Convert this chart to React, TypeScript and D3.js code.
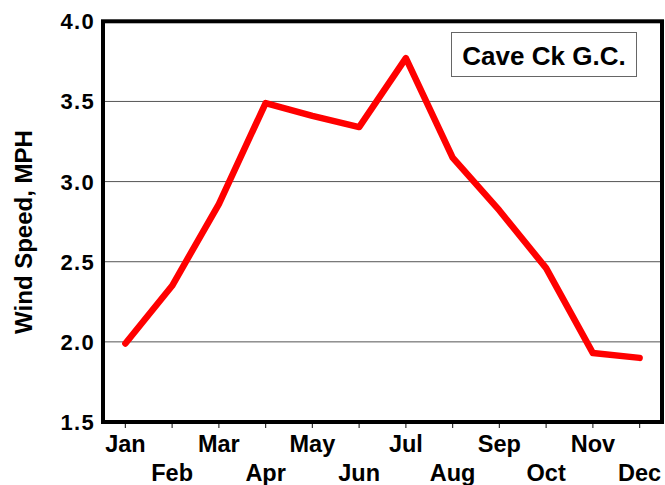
import React from "react";
import * as d3 from "d3";

const months = ["Jan", "Feb", "Mar", "Apr", "May", "Jun", "Jul", "Aug", "Sep", "Oct", "Nov", "Dec"];
const windSpeed = [1.99, 2.35, 2.86, 3.49, 3.41, 3.34, 3.77, 3.15, 2.82, 2.46, 1.93, 1.9];
const yTicks = [1.5, 2.0, 2.5, 3.0, 3.5, 4.0];
const gridValues = [2.0, 2.5, 3.0, 3.5];
const stationName = "Cave Ck G.C.";
const yTitle = "Wind Speed, MPH";

const W = 665;
const H = 485;
const frame = { left: 103, right: 662, top: 21.3, bottom: 422 };
const FONT = "'Liberation Sans', Arial, Helvetica, sans-serif";

export default function App() {
  const x = d3.scalePoint<string>().domain(months).range([102, 663]).padding(0.5);
  const y = d3.scaleLinear().domain([1.5, 4.0]).range([frame.bottom, frame.top]);
  const line = d3
    .line<number>()
    .x((_, i) => x(months[i]) as number)
    .y((d) => y(d));

  return (
    <svg
      width={W}
      height={H}
      style={{ position: "absolute", left: 0, top: 0, background: "#fff" }}
      fontFamily={FONT}
    >
      <rect x={0} y={0} width={W} height={H} fill="#fff" />
      {gridValues.map((v) => (
        <line key={v} x1={frame.left} x2={frame.right} y1={y(v)} y2={y(v)} stroke="#555" strokeWidth={1} />
      ))}
      {months.map((m) => (
        <line
          key={"t" + m}
          x1={x(m)}
          x2={x(m)}
          y1={frame.bottom}
          y2={frame.bottom + 6}
          stroke="#333"
          strokeWidth={1.2}
        />
      ))}
      <path
        d={line(windSpeed) || ""}
        fill="none"
        stroke="#ff0000"
        strokeWidth={6.5}
        strokeLinejoin="round"
        strokeLinecap="round"
      />
      <rect
        x={frame.left}
        y={frame.top}
        width={frame.right - frame.left}
        height={frame.bottom - frame.top}
        fill="none"
        stroke="#000"
        strokeWidth={4}
      />
      {yTicks.map((v) => (
        <text
          key={"y" + v}
          x={95}
          y={y(v)}
          dy="0.36em"
          textAnchor="end"
          fontSize={22}
          letterSpacing={1.3}
          fontWeight="bold"
          fill="#000"
        >
          {v.toFixed(1)}
        </text>
      ))}
      {months.map((m, i) => (
        <text
          key={"m" + m}
          x={x(m)}
          y={i % 2 === 0 ? 451.5 : 481}
          textAnchor="middle"
          fontSize={23.5}
          fontWeight="bold"
          fill="#000"
        >
          {m}
        </text>
      ))}
      <text
        transform={`translate(32, ${232}) rotate(-90)`}
        textAnchor="middle"
        fontSize={24}
        fontWeight="bold"
        fill="#000"
      >
        {yTitle}
      </text>
      <rect x={451.5} y={32.5} width={185} height={44} fill="#fff" stroke="#666" strokeWidth={1} />
      <text x={544} y={64.5} textAnchor="middle" fontSize={26} fontWeight="bold" fill="#000">
        {stationName}
      </text>
    </svg>
  );
}
